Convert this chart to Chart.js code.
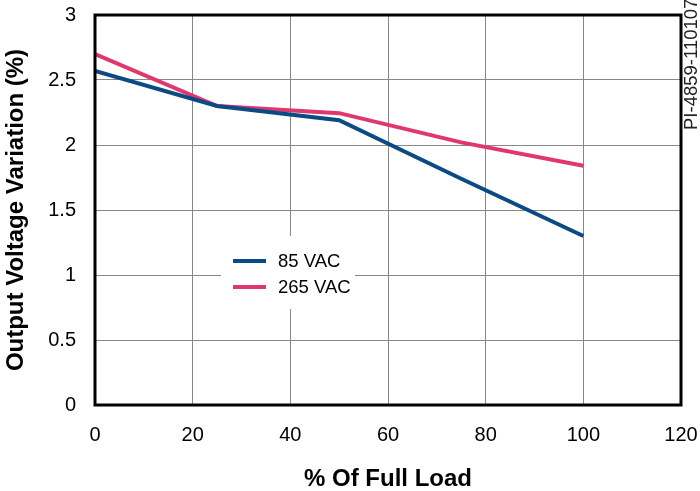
<!DOCTYPE html>
<html>
<head>
<meta charset="utf-8">
<script src="https://cdn.jsdelivr.net/npm/chart.js@4/dist/chart.umd.min.js"></script>
<style>
  html, body { margin: 0; padding: 0; background: #fff; }
  canvas { display: block; }
</style>
</head>
<body>
<canvas id="c" width="700" height="491"></canvas>
<script>
// % of full load
const loadPct = [0, 25, 50, 75, 100];
// output voltage variation (%)
const vac85  = [2.57, 2.30, 2.19, 1.74, 1.30];
const vac265 = [2.70, 2.30, 2.245, 2.02, 1.84];
const seriesNames = ['85 VAC', '265 VAC'];
const xTicks = [0, 20, 40, 60, 80, 100, 120];
const yTicks = [0, 0.5, 1, 1.5, 2, 2.5, 3];
const docId = 'PI-4859-110107';

const BLUE = '#0b4a85';
const PINK = '#e0386e';
const FONT = '"Liberation Sans", Arial, Helvetica, sans-serif';

const pts = ys => loadPct.map((x, i) => ({ x, y: ys[i] }));

// plot frame, inner legend and the drawing id on the right
const extras = {
  id: 'extras',
  afterDatasetsDraw(chart) {
    const { ctx, chartArea: a } = chart;
    ctx.save();
    ctx.strokeStyle = '#000';
    ctx.lineWidth = 3;
    ctx.strokeRect(a.left, a.top, a.right - a.left, a.bottom - a.top);

    // legend box
    ctx.fillStyle = '#fff';
    ctx.fillRect(221, 236, 134, 73);
    ctx.font = '18.5px ' + FONT;
    ctx.textBaseline = 'middle';
    ctx.textAlign = 'left';
    chart.data.datasets.forEach((ds, i) => {
      const y = 261 + i * 26;
      ctx.strokeStyle = ds.borderColor;
      ctx.lineWidth = 4;
      ctx.beginPath(); ctx.moveTo(233, y); ctx.lineTo(266, y); ctx.stroke();
      ctx.fillStyle = '#000';
      ctx.fillText(ds.label, 278, y + 1);
    });

    // id text, rotated
    ctx.translate(692, 130);
    ctx.rotate(-Math.PI / 2);
    ctx.font = '18.5px ' + FONT;
    ctx.fillStyle = '#222';
    ctx.textBaseline = 'middle';
    ctx.fillText(docId, 0, 0);
    ctx.restore();
  }
};

new Chart(document.getElementById('c'), {
  type: 'line',
  data: {
    datasets: [
      { label: seriesNames[0], data: pts(vac85), borderColor: BLUE, borderWidth: 4, pointRadius: 0, tension: 0, fill: false },
      { label: seriesNames[1], data: pts(vac265), borderColor: PINK, borderWidth: 4, pointRadius: 0, tension: 0, fill: false }
    ]
  },
  options: {
    responsive: false,
    animation: false,
    devicePixelRatio: 1,
    layout: { padding: { top: 15, right: 19, left: 0, bottom: 0 } },
    plugins: { legend: { display: false }, tooltip: { enabled: false } },
    scales: {
      x: {
        type: 'linear', min: 0, max: 120,
        afterFit: s => { s.height = 86; s.paddingLeft = 0; s.paddingRight = 0; },
        afterBuildTicks: s => { s.ticks = xTicks.map(v => ({ value: v })); },
        grid: { color: '#888', lineWidth: 1, drawTicks: false },
        border: { display: false },
        ticks: { padding: 18, color: '#000', font: { family: FONT, size: 20 } },
        title: { display: true, text: '% Of Full Load', color: '#000', padding: { top: 0, bottom: 0 },
                 font: { family: FONT, size: 24, weight: 'bold', lineHeight: 1.0 } }
      },
      y: {
        min: 0, max: 3,
        afterFit: s => { s.width = 95; s.paddingTop = 0; s.paddingBottom = 0; },
        afterBuildTicks: s => { s.ticks = yTicks.map(v => ({ value: v })); },
        grid: { color: '#888', lineWidth: 1, drawTicks: false },
        border: { display: false },
        ticks: { padding: 19, color: '#000', font: { family: FONT, size: 20 }, callback: v => String(v) },
        title: { display: true, text: 'Output Voltage Variation (%)', color: '#000', padding: { top: 4, bottom: 0 },
                 font: { family: FONT, size: 24, weight: 'bold', lineHeight: 1.0 } }
      }
    }
  },
  plugins: [extras]
});
</script>
</body>
</html>
